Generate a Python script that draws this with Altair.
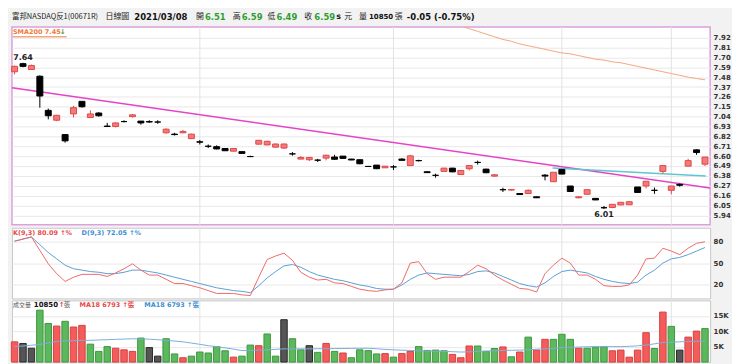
import altair as alt
import pandas as pd

# ---------------- data ----------------
stock_name = "富邦NASDAQ反1(00671R)"
chart_kind = "日線圖"
date_str = "2021/03/08"

opens = [7.54, 7.63, 7.565, 7.49, 7.11, 7.00, 6.84, 7.07, 7.21, 7.03,
         7.08, 6.935, 6.93, 6.985, 7.04, 6.99, 6.985, 6.98, 6.86, 6.845,
         6.86, 6.795, 6.76, 6.71, 6.705, 6.685, 6.655, 6.65, 6.595, 6.733,
         6.725, 6.70, 6.69, 6.625, 6.567, 6.56, 6.555, 6.578, 6.59, 6.60,
         6.567, 6.56, 6.485, 6.50, 6.47, 6.48, 6.567, 6.495, 6.55, 6.426,
         6.386, 6.43, 6.466, 6.395, 6.46, 6.53, 6.455, 6.377, 6.226, 6.222,
         6.183, 6.183, 6.147, 6.388, 6.315, 6.452, 6.267, 6.136, 6.175, 6.129,
         6.025, 6.028, 6.056, 6.058, 6.256, 6.267, 6.219, 6.43, 6.219, 6.285,
         6.488, 6.67, 6.51]
closes = [7.60, 7.60, 7.61, 7.27, 7.05, 7.055, 6.77, 7.14, 7.15, 7.07,
          7.05, 6.93, 6.97, 6.985, 7.06, 6.97, 6.98, 6.98, 6.90, 6.84,
          6.875, 6.845, 6.755, 6.71, 6.68, 6.66, 6.685, 6.63, 6.595, 6.776,
          6.765, 6.735, 6.735, 6.625, 6.585, 6.585, 6.555, 6.61, 6.565, 6.575,
          6.557, 6.515, 6.485, 6.46, 6.488, 6.48, 6.553, 6.603, 6.55, 6.416,
          6.386, 6.466, 6.425, 6.44, 6.495, 6.53, 6.415, 6.392, 6.226, 6.228,
          6.172, 6.219, 6.136, 6.378, 6.42, 6.40, 6.206, 6.147, 6.226, 6.112,
          6.025, 6.063, 6.085, 6.092, 6.195, 6.32, 6.219, 6.495, 6.267, 6.275,
          6.55, 6.64, 6.59]
highs = [7.61, 7.64, 7.62, 7.50, 7.13, 7.06, 6.845, 7.16, 7.21, 7.11,
         7.09, 6.97, 6.975, 7.00, 7.07, 6.99, 7.00, 7.00, 6.91, 6.86,
         6.89, 6.85, 6.78, 6.73, 6.72, 6.685, 6.685, 6.65, 6.605, 6.78,
         6.77, 6.74, 6.74, 6.645, 6.60, 6.585, 6.57, 6.615, 6.615, 6.60,
         6.57, 6.56, 6.49, 6.50, 6.49, 6.50, 6.578, 6.614, 6.56, 6.43,
         6.404, 6.47, 6.47, 6.44, 6.495, 6.55, 6.46, 6.40, 6.248, 6.235,
         6.185, 6.23, 6.15, 6.40, 6.42, 6.455, 6.267, 6.15, 6.23, 6.13,
         6.045, 6.065, 6.09, 6.095, 6.256, 6.32, 6.25, 6.495, 6.267, 6.296,
         6.571, 6.675, 6.59]
lows = [7.51, 7.59, 7.56, 7.14, 7.01, 6.99, 6.75, 7.03, 7.14, 7.03,
        7.04, 6.93, 6.92, 6.975, 7.03, 6.95, 6.97, 6.96, 6.85, 6.83,
        6.855, 6.79, 6.73, 6.69, 6.675, 6.66, 6.655, 6.63, 6.59, 6.73,
        6.72, 6.695, 6.68, 6.605, 6.565, 6.545, 6.535, 6.553, 6.56, 6.57,
        6.555, 6.51, 6.48, 6.455, 6.47, 6.445, 6.553, 6.495, 6.54, 6.415,
        6.36, 6.43, 6.42, 6.39, 6.44, 6.505, 6.41, 6.37, 6.20, 6.215,
        6.17, 6.18, 6.135, 6.33, 6.315, 6.40, 6.206, 6.13, 6.17, 6.11,
        6.01, 6.02, 6.055, 6.055, 6.195, 6.24, 6.18, 6.405, 6.175, 6.26,
        6.488, 6.614, 6.49]

volumes = [6540, 6020, 4475, 16820, 12500, 11670, 13210, 11360, 11880, 5800,
           3450, 5000, 4475, 3960, 3450, 7770, 4690, 1910, 7560, 2620,
           1390, 1910, 3240, 2930, 5000, 3650, 1600, 1910, 5500, 5300,
           9100, 1910, 13730, 7560, 3960, 5300, 3140, 6020, 3450, 2930,
           1390, 3960, 3700, 2620, 2730, 1590, 2730, 3450, 5000, 3760,
           3870, 3650, 2470, 1390, 5200, 5200, 3450, 4380, 4890, 1700,
           3240, 8080, 3870, 7360, 7360, 9000, 7360, 4475, 4475, 4790,
           5000, 3650, 3870, 1590, 3870, 9520, 4380, 16200, 11570, 3870,
           8080, 10030, 10850]
vol_dir = list("rkkggrgrrggg" "rrrgkkggrggg" "ggrggrggkggk" "grgrggggrgrr"
               "ggggrrrgggrg" "rgrrgggrgggr" "rrrrgrgkrrg")
vol_ma18 = [5000, 5200, 5450, 5700, 6150, 6700, 6850, 6950, 7000, 7050,
            7150, 7250, 7350, 7450, 7550, 7500, 7400, 7250, 7050, 6800,
            6550, 6150, 5750, 5300, 5000, 4600, 4200, 3700, 3750, 3850,
            3950, 4100, 4270, 4270, 4270, 4270, 4300, 4330, 4370, 4400,
            4430, 4450, 4475, 4300, 4100, 3960, 3850, 3750, 3650, 3580,
            3500, 3450, 3350, 3240, 3300, 3450, 3550, 3650, 3750, 3800,
            3870, 3950, 4150, 4270, 4450, 4690, 4750, 4850, 4950, 5000,
            5000, 5000, 5000, 5100, 5250, 5500, 5900, 6340, 6450, 6550,
            6650, 6720, 6793]

k_vals = [81, 84, 87, 68, 49, 35, 24, 30, 34, 34,
          34, 31, 36, 42, 49, 40, 33, 33, 27, 21,
          21, 18, 15, 11, 7, 7, 7, 5, 4, 30,
          55, 60, 64, 54, 37, 30, 26, 27, 22, 21,
          17, 13, 11, 10, 12, 13, 22, 50, 52, 35,
          27, 30, 30, 30, 38, 47, 42, 33, 26, 20,
          14, 13, 9, 35, 47, 57, 50, 33, 33, 27,
          18, 17, 17, 19, 33, 56, 57, 71, 67, 62,
          71, 78, 80.09]
d_vals = [81, 84, 87, 76, 65, 56, 47, 42, 40, 38,
          37, 35, 35, 37, 40, 40, 38, 36, 33, 30,
          27, 24, 21, 18, 15, 13, 11, 10, 8, 18,
          29, 38, 46, 48, 44, 38, 33, 30, 27, 25,
          22, 19, 17, 14, 13, 13, 19, 27, 33, 36,
          35, 34, 33, 32, 34, 38, 39, 36, 31, 26,
          21, 18, 16, 22, 31, 38, 40, 38, 36, 31,
          27, 24, 22, 21, 23, 33, 40, 50, 56, 58,
          62, 67, 72.05]

sma200_start = 52
sma200 = [8.08, 8.05, 8.02, 7.99, 7.96, 7.93, 7.90, 7.88, 7.85, 7.83,
          7.81, 7.79, 7.77, 7.75, 7.74, 7.72, 7.70, 7.68, 7.67, 7.65,
          7.64, 7.62, 7.60, 7.58, 7.56, 7.54, 7.52, 7.50, 7.48, 7.465, 7.45]

trend_idx = [-0.31, 82.61]
trend_price = [7.362, 6.245]
cyan_idx = [63.9, 82.1]
cyan_price = [6.468, 6.378]

month_starts = [22, 45, 65, 78]
price_ticks = [5.94, 6.05, 6.16, 6.27, 6.38, 6.49, 6.60, 6.71, 6.82, 6.93,
               7.04, 7.15, 7.26, 7.37, 7.48, 7.59, 7.70, 7.81, 7.92]
kd_ticks = [20, 50, 80]
vol_ticks = [5000, 10000, 15000]

# ---------------- build ----------------
n = len(opens)
idx = list(range(n))
cdf = pd.DataFrame({"idx": idx, "open": opens, "high": highs, "low": lows, "close": closes})
cdf["dir"] = ["up" if c > o else "down" for o, c in zip(opens, closes)]

FONT = "'DejaVu Sans', 'Noto Sans CJK TC'"
FONT_CJK = "'Noto Sans CJK TC', 'DejaVu Sans'"
W = 702
H_HEAD, H_PRICE, H_KD, H_VOL = 14, 199, 71, 62

xs = alt.Scale(domain=[-0.31, 82.61], nice=False, zero=False, padding=0)
X = alt.X("idx:Q", scale=xs, axis=None)


def raxis(values, fmt=None, expr=None):
    kw = dict(orient="right", values=values, grid=True, gridColor="#e8e8e8", gridWidth=1,
              ticks=False, domain=False, labelFont="DejaVu Sans", labelFontSize=7,
              labelFontWeight="bold", labelColor="#333333", labelPadding=3, title=None)
    if fmt:
        kw["format"] = fmt
    if expr:
        kw["labelExpr"] = expr
    return alt.Axis(**kw)


def txt(s, x, y, color, size, weight="normal", font=FONT):
    return alt.Chart(pd.DataFrame({"t": [s]})).mark_text(
        align="left", baseline="middle", x=x, y=y, color=color, fontSize=size,
        fontWeight=weight, font=font).encode(text="t:N")


mdf = pd.DataFrame({"m": month_starts})


def month_rules():
    return alt.Chart(mdf).mark_rule(color="#e2e2e2", strokeWidth=1).encode(
        x=alt.X("m:Q", scale=xs, axis=None))


# ---- header ----
GREEN = "#2f9e2f"
chg = closes[-1] - closes[-2]
pct = chg / closes[-2] * 100
head_items = [
    (stock_name, 0, "#222222", 7.5, "normal", FONT_CJK),
    (chart_kind, 94, "#222222", 8, "normal", FONT_CJK),
    (date_str, 123, "#111111", 8.5, "bold", FONT),
    ("開", 185, "#222222", 8, "normal", FONT_CJK),
    (f"{opens[-1]:.2f}", 194, GREEN, 8.5, "bold", FONT),
    ("高", 222, "#222222", 8, "normal", FONT_CJK),
    (f"{highs[-1]:.2f}", 231, GREEN, 8.5, "bold", FONT),
    ("低", 257, "#222222", 8, "normal", FONT_CJK),
    (f"{lows[-1]:.2f}", 266, GREEN, 8.5, "bold", FONT),
    ("收", 294, "#222222", 8, "normal", FONT_CJK),
    (f"{closes[-1]:.2f}", 304, GREEN, 8.5, "bold", FONT),
    ("s", 326, "#111111", 8, "bold", FONT),
    ("元", 334, "#222222", 8, "normal", FONT_CJK),
    ("量", 349, "#222222", 8, "normal", FONT_CJK),
    (f"{volumes[-1]}", 359, "#111111", 7, "bold", FONT),
    ("張", 385, "#222222", 8, "normal", FONT_CJK),
    (f"{chg:+.2f} ({pct:+.2f}%)", 397, "#111111", 8.5, "bold", FONT),
]
head = alt.layer(*[txt(s, x, 7, c, sz, w, f) for s, x, c, sz, w, f in head_items]).properties(
    width=W, height=H_HEAD, view=alt.ViewBackground(stroke="transparent"))

# ---- price panel ----
ps = alt.Scale(domain=[5.835, 8.04], nice=False, zero=False)
pa = raxis(price_ticks, fmt=".2f")
stroke_scale = alt.Scale(domain=["up", "down"], range=["#e04a4a", "#000000"])
fill_scale = alt.Scale(domain=["up", "down"], range=["#f47a7a", "#000000"])

wick = alt.Chart(cdf).mark_rule(strokeWidth=1).encode(
    x=X, y=alt.Y("low:Q", scale=ps, axis=pa), y2="high:Q",
    stroke=alt.Stroke("dir:N", scale=stroke_scale, legend=None))
body = alt.Chart(cdf).mark_bar(size=6, strokeWidth=1).encode(
    x=X, y=alt.Y("open:Q", scale=ps, axis=pa), y2="close:Q",
    fill=alt.Fill("dir:N", scale=fill_scale, legend=None),
    stroke=alt.Stroke("dir:N", scale=stroke_scale, legend=None))

trend = alt.Chart(pd.DataFrame({"idx": trend_idx, "price": trend_price})).mark_line(
    color="#e544c6", strokeWidth=1.5).encode(x=X, y=alt.Y("price:Q", scale=ps, axis=pa))
cyan = alt.Chart(pd.DataFrame({"idx": cyan_idx, "price": cyan_price})).mark_line(
    color="#5ec6d2", strokeWidth=1.5).encode(x=X, y=alt.Y("price:Q", scale=ps, axis=pa))
sma = alt.Chart(pd.DataFrame({"idx": list(range(sma200_start, sma200_start + len(sma200))),
                              "price": sma200})).mark_line(
    color="#f5a57f", strokeWidth=1, clip=True).encode(x=X, y=alt.Y("price:Q", scale=ps, axis=pa))

imax = max(range(n), key=lambda i: highs[i])
imin = min(range(n), key=lambda i: lows[i])
hi_df = pd.DataFrame({"idx": [imax], "price": [highs[imax]], "t": [f"{highs[imax]:.2f}"]})
lo_df = pd.DataFrame({"idx": [imin], "price": [lows[imin]], "t": [f"{lows[imin]:.2f}"]})
hi_lbl = alt.Chart(hi_df).mark_text(baseline="bottom", dy=-1, font="DejaVu Sans", fontSize=8,
                                    fontWeight="bold", color="#222222").encode(
    x=X, y=alt.Y("price:Q", scale=ps, axis=pa), text="t:N")
lo_lbl = alt.Chart(lo_df).mark_text(baseline="top", dy=2, font="DejaVu Sans", fontSize=8,
                                    fontWeight="bold", color="#222222").encode(
    x=X, y=alt.Y("price:Q", scale=ps, axis=pa), text="t:N")

sma_lbl = txt(f"SMA200 {sma200[-1]:.2f}", 1, 5, "#f07a3a", 6.5, "bold")
sma_arrow = txt("↓", 48, 5, GREEN, 7, "bold")
sma_line = alt.Chart(pd.DataFrame({"a": [0]})).mark_rule(color="#f07a3a", strokeWidth=1).encode(
    x=alt.value(1), x2=alt.value(55), y=alt.value(10))

price = alt.layer(month_rules(), sma, trend, cyan, wick, body, hi_lbl, lo_lbl,
                  sma_lbl, sma_arrow, sma_line).properties(
    width=W, height=H_PRICE,
    view=alt.ViewBackground(fill="white", stroke="#dda0dd", strokeWidth=1.5))

# ---- KD panel ----
kdf = pd.DataFrame({"idx": idx, "K": k_vals, "D": d_vals})
ks = alt.Scale(domain=[0, 100], nice=False, zero=False)
ka = raxis(kd_ticks)
kline = alt.Chart(kdf).mark_line(color="#ee6a6a", strokeWidth=1).encode(
    x=X, y=alt.Y("K:Q", scale=ks, axis=ka))
dline = alt.Chart(kdf).mark_line(color="#5b9fd6", strokeWidth=1).encode(
    x=X, y=alt.Y("D:Q", scale=ks, axis=ka))
k_lbl = txt(f"K(9,3) {k_vals[-1]:.2f} ↑%", 1, 5, "#e84a4a", 6.5, "bold")
d_lbl = txt(f"D(9,3) {d_vals[-1]:.2f} ↑%", 70, 5, "#3d8fd1", 6.5, "bold")
kd = alt.layer(month_rules(), dline, kline, k_lbl, d_lbl).properties(
    width=W, height=H_KD,
    view=alt.ViewBackground(fill="white", stroke="#c8c8c8", strokeWidth=1))

# ---- volume panel ----
vdf = pd.DataFrame({"idx": idx, "vol": volumes, "vdir": vol_dir, "ma": vol_ma18})
vs = alt.Scale(domain=[0, 20000], nice=False, zero=True)
va = raxis(vol_ticks, expr="datum.value / 1000 + 'K'")
vbars = alt.Chart(vdf).mark_bar(size=6.5, strokeWidth=1).encode(
    x=X, y=alt.Y("vol:Q", scale=vs, axis=va),
    fill=alt.Fill("vdir:N", scale=alt.Scale(domain=["r", "g", "k"],
                                            range=["#f45c5c", "#5cb85c", "#555555"]), legend=None),
    stroke=alt.Stroke("vdir:N", scale=alt.Scale(domain=["r", "g", "k"],
                                                range=["#d84040", "#3f963f", "#2a2a2a"]), legend=None))
vma = alt.Chart(vdf).mark_line(color="#7aaed8", strokeWidth=1).encode(
    x=X, y=alt.Y("ma:Q", scale=vs, axis=va))
v_items = [
    ("成交量", 1, "#555555", 6, "normal", FONT_CJK),
    (f"{volumes[-1]}", 22, "#111111", 7, "bold", FONT),
    ("↑", 47, "#e84a4a", 7, "bold", FONT),
    ("張", 52, "#555555", 6.5, "normal", FONT_CJK),
    (f"MA18 {vol_ma18[-1]} ↑張", 68, "#e84a4a", 6.5, "bold", FONT),
    (f"MA18 {vol_ma18[-1]} ↑張", 133, "#3d8fd1", 6.5, "bold", FONT),
]
vol = alt.layer(month_rules(), vbars, vma,
                *[txt(s, x, 5, c, sz, w, f) for s, x, c, sz, w, f in v_items]).properties(
    width=W, height=H_VOL,
    view=alt.ViewBackground(fill="white", stroke="#c8c8c8", strokeWidth=1))

chart = alt.vconcat(head, price, kd, vol, spacing=0).resolve_scale(
    x="independent", y="independent", fill="independent", stroke="independent"
).properties(padding=0, background="#f2f2f2")

chart.save("out.html", embed_options={"renderer": "svg", "actions": False})
